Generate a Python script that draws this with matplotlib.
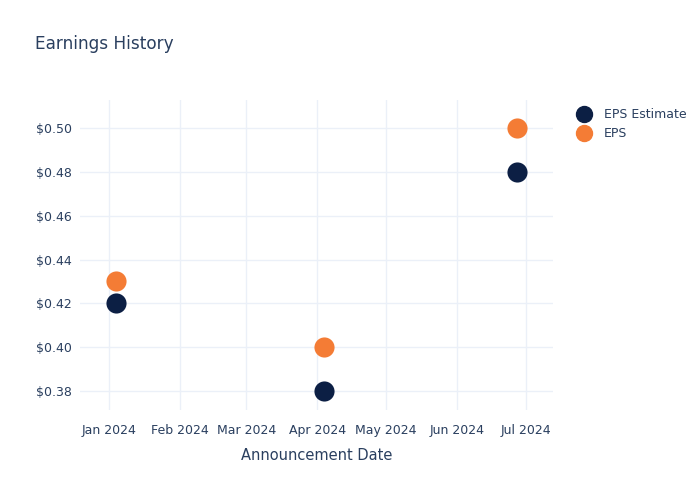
import matplotlib
matplotlib.use("Agg")
import matplotlib.pyplot as plt
import matplotlib.dates as mdates
import matplotlib.ticker as mticker
from matplotlib.lines import Line2D
import datetime as dt

dates = ["2024-01-04", "2024-04-04", "2024-06-27"]
eps_estimate = [0.42, 0.38, 0.48]
eps_actual = [0.43, 0.40, 0.50]
series_names = ["EPS Estimate", "EPS"]
colors = ["#0c1f44", "#f47c35"]

text_color = "#2a3f5f"
grid_color = "#ebf0f8"

x = [dt.datetime.strptime(d, "%Y-%m-%d") for d in dates]

fig = plt.figure(figsize=(7, 5), dpi=100)
ax = fig.add_axes([80/700, 90/500, 473/700, 310/500])

ax.scatter(x, eps_estimate, s=210, color=colors[0], zorder=3, linewidths=0)
ax.scatter(x, eps_actual, s=210, color=colors[1], zorder=3, linewidths=0)

ax.set_xlim(dt.datetime(2023, 12, 19, 8), dt.datetime(2024, 7, 12, 20))
ax.set_ylim(0.37133, 0.51278)

ax.xaxis.set_major_locator(mdates.MonthLocator())
ax.xaxis.set_major_formatter(mdates.DateFormatter("%b %Y"))
ax.yaxis.set_major_locator(mticker.MultipleLocator(0.02))
ax.yaxis.set_major_formatter(mticker.FuncFormatter(lambda v, p: f"${v:.2f}"))

for s in ax.spines.values():
    s.set_visible(False)
ax.grid(True, color=grid_color, linewidth=1)
ax.set_axisbelow(True)
ax.tick_params(length=0, labelsize=9, colors=text_color)
ax.tick_params(axis="x", pad=10)
ax.tick_params(axis="y", pad=6)
ax.set_xlabel("Announcement Date", fontsize=10.5, color=text_color, labelpad=8)

fig.text(35/700, 1 - 44/500, "Earnings History", fontsize=12.2, color=text_color, va="center", ha="left")

handles = [Line2D([0], [0], marker="o", linestyle="", markersize=11.5, color=c) for c in colors]
leg = fig.legend(handles, series_names, loc="upper left", bbox_to_anchor=(571/700, 1 - 103/500),
                 frameon=False, fontsize=9, handletextpad=1.0, labelspacing=0.5, borderaxespad=0,
                 handlelength=1.2)
for t in leg.get_texts():
    t.set_color(text_color)

fig.savefig("out.png", dpi=100)
